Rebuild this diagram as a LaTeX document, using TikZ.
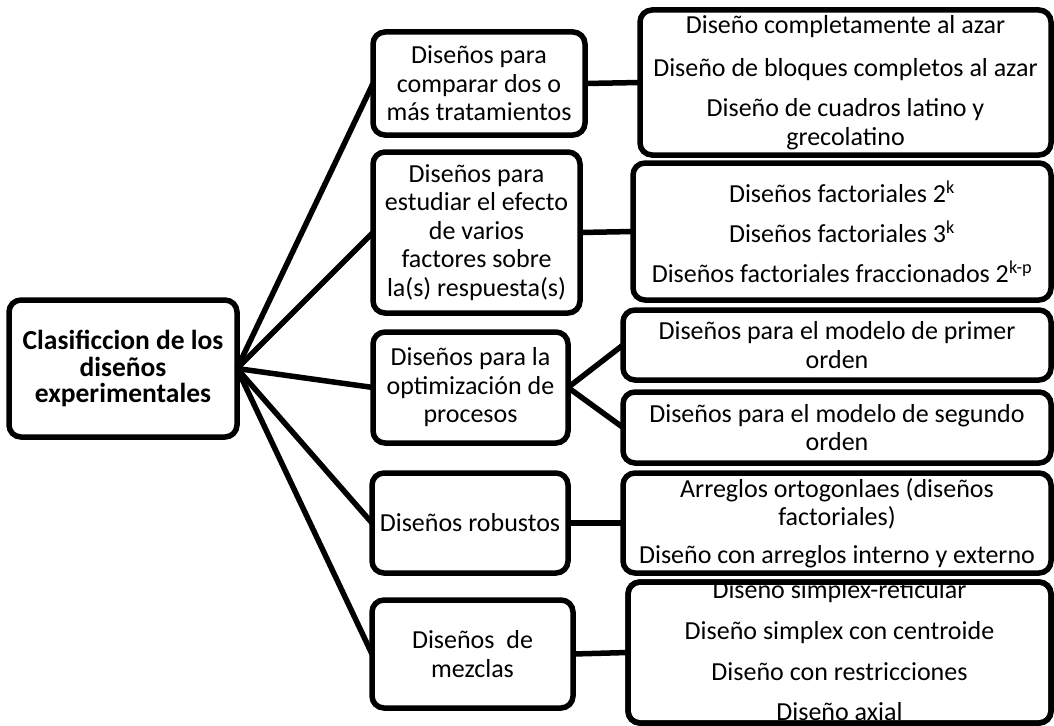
\documentclass[tikz,border=0pt]{standalone}
\usepackage{fontspec}
\setmainfont{Carlito}
\begin{document}
\begin{tikzpicture}[x=1pt,y=-1pt,
  box/.style={draw, line width=5.5pt, rounded corners=12pt, fill=white, outer sep=0pt, inner sep=0pt, align=center, font=\fontsize{26}{28.5}\selectfont},
  txt/.style={inner sep=0pt, align=center, font=\fontsize{26}{28.5}\selectfont},
  link/.style={line width=5.5pt}]
\useasboundingbox (0,0) rectangle (1054,725);
% root
\node[box, minimum width=228pt, minimum height=137pt, font=\bfseries\fontsize{27.5}{26.5}\selectfont] (root) at (123,368.5) {Clasificcion de los\\diseños\\experimentales};
% middle boxes
\node[box, minimum width=212pt, minimum height=103pt] (m1) at (479,83.5) {Diseños para\\comparar dos o\\más tratamientos};
\node[box, minimum width=207pt, minimum height=161pt] (m2) at (476.5,232.5) {Diseños para\\estudiar el efecto\\de varios\\factores sobre\\la(s) respuesta(s)};
\node[box, minimum width=195pt, minimum height=111pt] (m3) at (470.5,387.5) {Diseños para la\\optimización de\\procesos};
\node[box, minimum width=196pt, minimum height=100pt] (m4) at (470,523) {Diseños robustos};
\node[box, minimum width=201pt, minimum height=108pt] (m5) at (472.5,654) {Diseños\ \ de\\mezclas};
% right boxes
\node[box, minimum width=411pt, minimum height=145pt] (r1) at (845.5,82.5) {Diseño completamente al azar\\[15pt]Diseño de bloques completos al azar\\[11.5pt]Diseño de cuadros latino y\\grecolatino};
\node[box, minimum width=418pt, minimum height=137pt] (r2) at (842,231.5) {Diseños factoriales 2\textsuperscript{k}\\[11.5pt]Diseños factoriales 3\textsuperscript{k}\\[11.5pt]Diseños factoriales fraccionados 2\textsuperscript{k-p}};
\node[box, minimum width=428pt, minimum height=70pt] (r3a) at (837,345) {Diseños para el modelo de primer\\orden};
\node[box, minimum width=428pt, minimum height=71pt] (r3b) at (837,427.5) {Diseños para el modelo de segundo\\orden};
\node[box, minimum width=428pt, minimum height=100pt] (r4) at (837,523) {Arreglos ortogonlaes (diseños\\factoriales)\\[9.5pt]Diseño con arreglos interno y externo};
\node[box, minimum width=423pt, minimum height=141pt] (r5) at (839.5,652.5) {};
\begin{scope}
  \clip (r5.north west) rectangle (r5.south east);
  \node[txt] (r5t) at ([yshift=1.5pt]r5.center) {Diseño simplex-reticular\\[12.2pt]Diseño simplex con centroide\\[12.2pt]Diseño con restricciones\\[12.2pt]Diseño axial};
\end{scope}
\draw[line width=5.5pt, rounded corners=12pt] (r5.north west) rectangle (r5.south east);
% connectors
\foreach \m in {m1,m2,m3,m4,m5} \draw[link] (root.east) -- (\m.west);
\draw[link] (m1.east) -- (r1.west);
\draw[link] (m2.east) -- (r2.west);
\draw[link] (m3.east) -- (r3a.west);
\draw[link] (m3.east) -- (r3b.west);
\draw[link] (m4.east) -- (r4.west);
\draw[link] (m5.east) -- (r5.west);
\end{tikzpicture}
\end{document}
